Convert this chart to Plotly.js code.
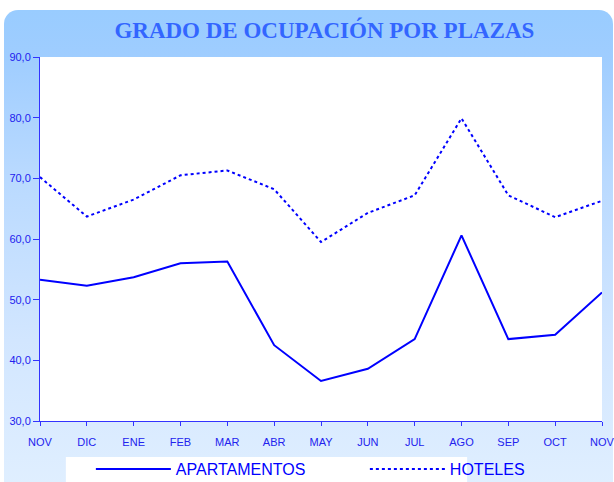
<!DOCTYPE html>
<html>
<head>
<meta charset="utf-8">
<script src="https://cdn.plot.ly/plotly-3.0.1.min.js"></script>
<style>
  html, body { margin:0; padding:0; background:#ffffff; }
  #wrap { position:relative; width:614px; height:482px; overflow:hidden; }
  #bg { position:absolute; left:4px; top:10px; width:609px; height:490px;
        border-radius:14px;
        background: linear-gradient(to bottom, #99ccff 0px, #9fcdff 47px, #b8d9ff 160px, #d2e6ff 330px, #e0efff 480px); }
  #chart { position:absolute; left:0; top:0; width:614px; height:482px; }
</style>
</head>
<body>
<div id="wrap">
  <div id="bg"></div>
  <div id="chart"></div>
</div>
<script>
const months = ["NOV","DIC","ENE","FEB","MAR","ABR","MAY","JUN","JUL","AGO","SEP","OCT","NOV"];
const apartamentos = [53.3, 52.3, 53.7, 56.0, 56.3, 42.5, 36.6, 38.6, 43.5, 60.6, 43.5, 44.2, 51.2];
const hoteles = [70.2, 63.7, 66.5, 70.5, 71.3, 68.2, 59.5, 64.3, 67.2, 79.9, 67.2, 63.6, 66.3];
const yTicks = [30, 40, 50, 60, 70, 80, 90];

const xIdx = months.map((m, i) => i);

const traces = [
  { x: xIdx, y: apartamentos, type: 'scatter', mode: 'lines', name: 'APARTAMENTOS',
    line: { color: '#0000ff', width: 2 } },
  { x: xIdx, y: hoteles, type: 'scatter', mode: 'lines', name: 'HOTELES',
    line: { color: '#0000ff', width: 2, dash: 'dot' } }
];

const layout = {
  width: 614, height: 482,
  paper_bgcolor: 'rgba(0,0,0,0)',
  plot_bgcolor: '#ffffff',
  margin: { l: 40, r: 12, t: 57, b: 61, autoexpand: false },
  separators: ',.',
  title: { text: 'GRADO DE OCUPACIÓN POR PLAZAS', x: 0.506, xref: 'paper', y: 0.938, yref: 'container',
           xanchor: 'center', yanchor: 'middle',
           font: { family: 'Liberation Serif, Times New Roman, serif', size: 23, color: '#3366ff', weight: 'bold' } },
  xaxis: {
    range: [0, 12], tickvals: xIdx, ticktext: months,
    showgrid: false, zeroline: false,
    showline: true, linecolor: '#3333ff', linewidth: 1,
    ticks: 'outside', ticklen: 4, tickcolor: '#3333ff', tickwidth: 1,
    ticklabelstandoff: 7, ticklabeloverflow: 'allow',
    tickfont: { family: 'Liberation Sans, Arial, sans-serif', size: 11, color: '#2222ee' },
    fixedrange: true
  },
  yaxis: {
    range: [30, 90], tickvals: yTicks, tickformat: '.1f',
    showgrid: false, zeroline: false,
    showline: true, linecolor: '#3333ff', linewidth: 1,
    ticks: 'outside', ticklen: 6, tickcolor: '#3333ff', tickwidth: 1,
    ticklabeloverflow: 'allow',
    tickfont: { family: 'Liberation Sans, Arial, sans-serif', size: 11, color: '#2222ee' },
    fixedrange: true
  },
  shapes: [
    { type: 'rect', xref: 'paper', yref: 'paper', x0: 0.046, x1: 0.76, y0: -0.099, y1: -0.2,
      fillcolor: '#ffffff', line: { width: 0 }, layer: 'below' }
  ],
  legend: {
    orientation: 'h', x: 0.148, y: 0.027, xref: 'container', yref: 'container',
    xanchor: 'left', yanchor: 'middle',
    bgcolor: 'rgba(0,0,0,0)', borderwidth: 0,
    entrywidth: 184, entrywidthmode: 'pixels', itemwidth: 75,
    font: { family: 'Liberation Sans, Arial, sans-serif', size: 16, color: '#0000ff' }
  },
  showlegend: true
};

Plotly.newPlot('chart', traces, layout, { displayModeBar: false, staticPlot: true });
</script>
</body>
</html>
